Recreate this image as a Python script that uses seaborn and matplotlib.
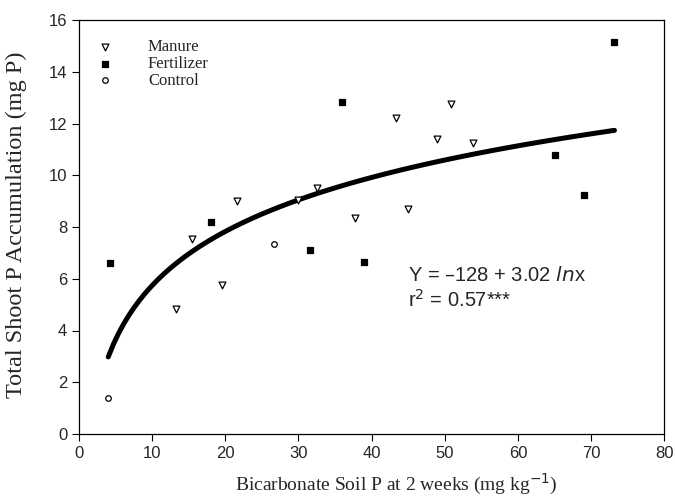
import numpy as np
import pandas as pd
import matplotlib
matplotlib.use("Agg")
import matplotlib.pyplot as plt
import seaborn as sns

# data
manure_x = [13.3, 15.5, 19.6, 21.6, 30.0, 32.5, 37.8, 43.4, 45.0, 49.0, 50.8, 53.8]
manure_y = [4.85, 7.55, 5.75, 9.0, 9.05, 9.5, 8.35, 12.2, 8.7, 11.4, 12.75, 11.25]
fert_x = [4.3, 18.1, 31.6, 36.0, 39.0, 65.1, 69.1, 73.2]
fert_y = [6.6, 8.2, 7.1, 12.85, 6.65, 10.8, 9.25, 15.15]
control_x = [4.0, 26.7]
control_y = [1.38, 7.35]

x_ticks = [0, 10, 20, 30, 40, 50, 60, 70, 80]
y_ticks = [0, 2, 4, 6, 8, 10, 12, 14, 16]

df = pd.concat([
    pd.DataFrame({"x": manure_x, "y": manure_y, "trt": "Manure"}),
    pd.DataFrame({"x": fert_x, "y": fert_y, "trt": "Fertilizer"}),
    pd.DataFrame({"x": control_x, "y": control_y, "trt": "Control"}),
], ignore_index=True)

sns.set_style("ticks")
plt.rcParams["font.family"] = ["Liberation Sans", "DejaVu Sans"]

fig, ax = plt.subplots(figsize=(6.75, 5), dpi=100)
fig.subplots_adjust(left=0.117, right=0.984, top=0.96, bottom=0.132)

styles = {
    "Manure": dict(marker="v", facecolor="white", edgecolor="black", s=24),
    "Fertilizer": dict(marker="s", facecolor="black", edgecolor="black", s=18),
    "Control": dict(marker="o", facecolor="white", edgecolor="black", s=16),
}
for trt, st in styles.items():
    sub = df[df["trt"] == trt]
    sns.scatterplot(data=sub, x="x", y="y", ax=ax, marker=st["marker"],
                    color=st["facecolor"], edgecolor=st["edgecolor"],
                    linewidth=0.9, s=st["s"], label=trt, zorder=3)

# log fit across all treatments
sns.regplot(data=df, x="x", y="y", logx=True, ci=None, scatter=False, ax=ax,
            line_kws=dict(color="black", lw=3.6, solid_capstyle="round", zorder=2))

ax.set_xlim(0, 80)
ax.set_ylim(0, 16)
ax.set_xticks(x_ticks)
ax.set_yticks(y_ticks)
ax.tick_params(labelsize=12, length=5, width=0.8, direction="out", color="black")
for sp in ax.spines.values():
    sp.set_visible(True)
    sp.set_linewidth(0.9)
    sp.set_color("black")

ax.set_xlabel("Bicarbonate Soil P at 2 weeks (mg kg$^{-1}$)",
              family="Liberation Serif", fontsize=14)
ax.set_ylabel("Total Shoot P Accumulation (mg P)",
              family="Liberation Serif", fontsize=17.5)
ax.xaxis.set_label_coords(0.542, -0.092)
ax.yaxis.set_label_coords(-0.088, 0.505)

ax.text(45.0, 4.75, "Y = \u2013128 + 3.02 $\\it{ln}$x\nr$^2$ = 0.57***",
        fontsize=14.5, va="bottom", ha="left", linespacing=1.25)

leg = ax.legend(loc="upper left", frameon=False, prop={"family": "Liberation Serif", "size": 12},
                handletextpad=1.6, borderaxespad=0.0, labelspacing=0.05,
                bbox_to_anchor=(0.004, 0.97))

fig.savefig("out.png", dpi=100)
